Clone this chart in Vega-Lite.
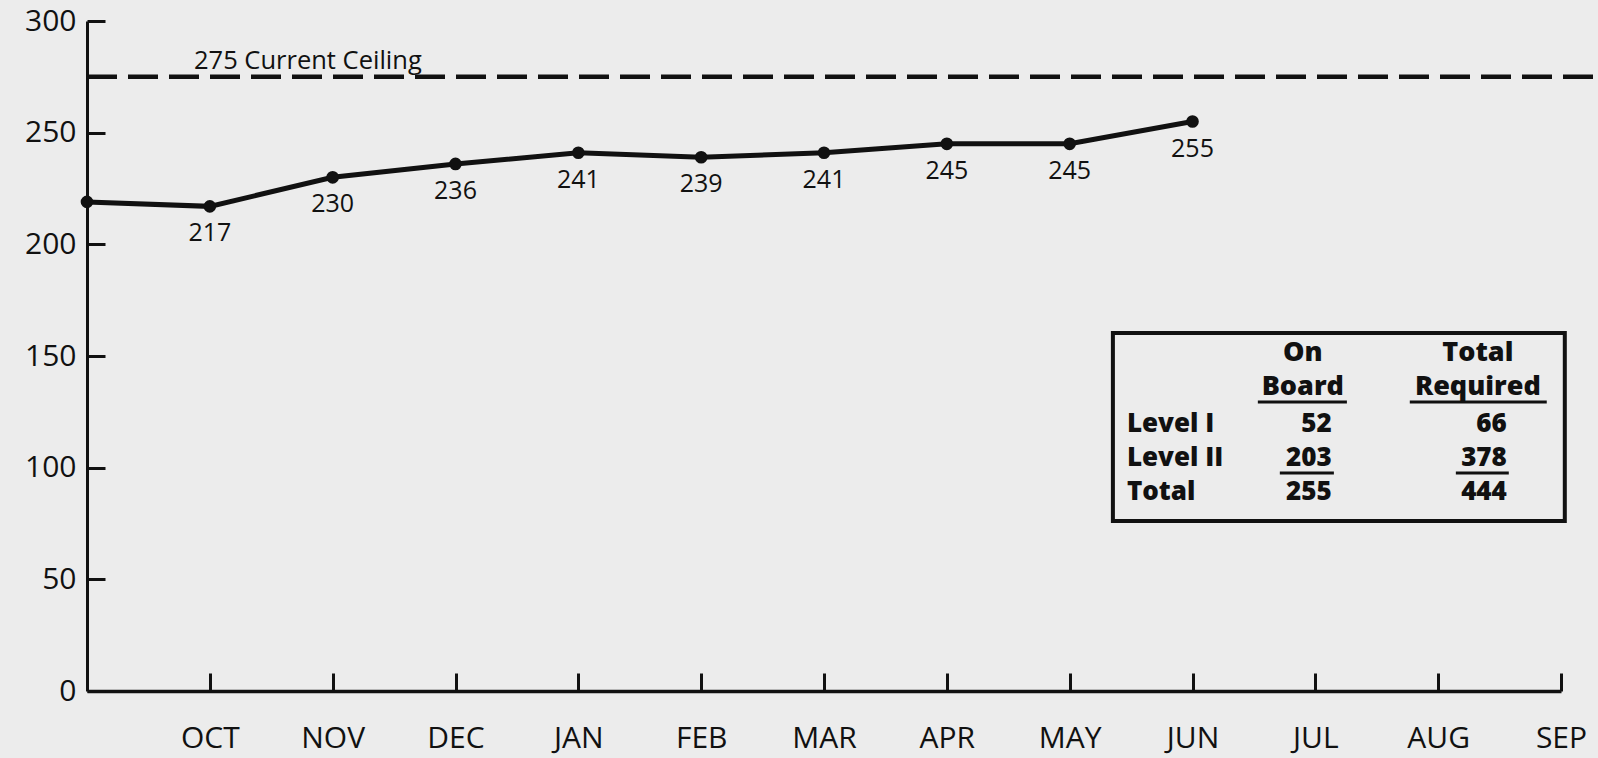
{
  "$schema": "https://vega.github.io/schema/vega-lite/v6.json",
  "width": 1474,
  "height": 670,
  "autosize": {"type": "none"},
  "padding": {"left": 87, "top": 21, "right": 37, "bottom": 67},
  "background": "#ececec",
  "config": {
    "view": {"stroke": null},
    "font": "Open Sans",
    "text": {"font": "Open Sans", "color": "#111111"}
  },
  "datasets": {
    "staff": [
      {"month": "SEP", "idx": 0, "value": 219},
      {"month": "OCT", "idx": 1, "value": 217},
      {"month": "NOV", "idx": 2, "value": 230},
      {"month": "DEC", "idx": 3, "value": 236},
      {"month": "JAN", "idx": 4, "value": 241},
      {"month": "FEB", "idx": 5, "value": 239},
      {"month": "MAR", "idx": 6, "value": 241},
      {"month": "APR", "idx": 7, "value": 245},
      {"month": "MAY", "idx": 8, "value": 245},
      {"month": "JUN", "idx": 9, "value": 255}
    ]
  },
  "layer": [
    {
      "data": {"name": "staff"},
      "mark": {"type": "line", "color": "#111111", "strokeWidth": 5, "point": {"filled": true, "size": 160, "color": "#111111"}},
      "encoding": {
        "x": {
          "field": "idx", "type": "quantitative",
          "scale": {"domain": [0, 12], "nice": false, "zero": false},
          "axis": {
            "title": null, "grid": false,
            "values": [1, 2, 3, 4, 5, 6, 7, 8, 9, 10, 11, 12],
            "labelExpr": "['','OCT','NOV','DEC','JAN','FEB','MAR','APR','MAY','JUN','JUL','AUG','SEP'][datum.value]",
            "domainColor": "#111111", "domainWidth": 3.5,
            "tickColor": "#111111", "tickWidth": 3, "tickSize": -18,
            "labelFontSize": 30, "labelColor": "#111111", "labelPadding": 50,
            "labelFont": "Open Sans", "labelFlush": false, "labelOverlap": false
          }
        },
        "y": {
          "field": "value", "type": "quantitative",
          "scale": {"domain": [0, 300], "nice": false},
          "axis": {
            "title": null, "grid": false,
            "values": [0, 50, 100, 150, 200, 250, 300],
            "domainColor": "#111111", "domainWidth": 3,
            "tickColor": "#111111", "tickWidth": 3, "tickSize": -18,
            "labelFontSize": 30, "labelColor": "#111111", "labelPadding": 29,
            "labelFont": "Open Sans", "labelOverlap": false, "labelFlush": false
          }
        }
      }
    },
    {
      "data": {"name": "staff"},
      "transform": [{"filter": "datum.idx > 0"}],
      "mark": {"type": "text", "dy": 27, "fontSize": 25, "baseline": "middle", "align": "center"},
      "encoding": {
        "x": {"field": "idx", "type": "quantitative"},
        "y": {"field": "value", "type": "quantitative"},
        "text": {"field": "value", "type": "quantitative"}
      }
    },
    {
      "data": {"values": [{"ceiling": 275}]},
      "mark": {"type": "rule", "strokeDash": [30, 11], "strokeWidth": 4.5, "color": "#111111"},
      "encoding": {
        "x": {"datum": 0, "type": "quantitative"},
        "x2": {"datum": 12.3},
        "y": {"field": "ceiling", "type": "quantitative"}
      }
    },
    {
      "data": {"values": [{"label": "275 Current Ceiling"}]},
      "mark": {"type": "text", "align": "left", "baseline": "middle", "fontSize": 25.5},
      "encoding": {
        "x": {"datum": 0.871, "type": "quantitative"},
        "y": {"datum": 282, "type": "quantitative"},
        "text": {"field": "label"}
      }
    },
    {
      "data": {"values": [{}]},
      "mark": {"type": "rect", "fillOpacity": 0, "stroke": "#111111", "strokeWidth": 4},
      "encoding": {
        "x": {"datum": 8.352, "type": "quantitative"},
        "x2": {"datum": 12.031},
        "y": {"datum": 160.3, "type": "quantitative"},
        "y2": {"datum": 76.1}
      }
    },
    {
      "data": {"values": [{"t": "On"}]},
      "mark": {"type": "text", "align": "center", "baseline": "middle", "fontSize": 27, "fontWeight": 800},
      "encoding": {"x": {"datum": 9.898, "type": "quantitative"}, "y": {"datum": 151.3, "type": "quantitative"}, "text": {"field": "t"}}
    },
    {
      "data": {"values": [{"t": "Board"}]},
      "mark": {"type": "text", "align": "center", "baseline": "middle", "fontSize": 27, "fontWeight": 800},
      "encoding": {"x": {"datum": 9.898, "type": "quantitative"}, "y": {"datum": 136.1, "type": "quantitative"}, "text": {"field": "t"}}
    },
    {
      "data": {"values": [{"t": "Total"}]},
      "mark": {"type": "text", "align": "center", "baseline": "middle", "fontSize": 27, "fontWeight": 800},
      "encoding": {"x": {"datum": 11.323, "type": "quantitative"}, "y": {"datum": 151.3, "type": "quantitative"}, "text": {"field": "t"}}
    },
    {
      "data": {"values": [{"t": "Required"}]},
      "mark": {"type": "text", "align": "center", "baseline": "middle", "fontSize": 27, "fontWeight": 800},
      "encoding": {"x": {"datum": 11.323, "type": "quantitative"}, "y": {"datum": 136.1, "type": "quantitative"}, "text": {"field": "t"}}
    },
    {
      "data": {"values": [{"t": "Level I"}]},
      "mark": {"type": "text", "align": "left", "baseline": "middle", "fontSize": 26, "fontWeight": 800},
      "encoding": {"x": {"datum": 8.466, "type": "quantitative"}, "y": {"datum": 119.6, "type": "quantitative"}, "text": {"field": "t"}}
    },
    {
      "data": {"values": [{"t": "Level II"}]},
      "mark": {"type": "text", "align": "left", "baseline": "middle", "fontSize": 26, "fontWeight": 800},
      "encoding": {"x": {"datum": 8.466, "type": "quantitative"}, "y": {"datum": 104.3, "type": "quantitative"}, "text": {"field": "t"}}
    },
    {
      "data": {"values": [{"t": "Total"}]},
      "mark": {"type": "text", "align": "left", "baseline": "middle", "fontSize": 26, "fontWeight": 800},
      "encoding": {"x": {"datum": 8.466, "type": "quantitative"}, "y": {"datum": 89.1, "type": "quantitative"}, "text": {"field": "t"}}
    },
    {
      "data": {"values": [{"t": "52"}]},
      "mark": {"type": "text", "align": "right", "baseline": "middle", "fontSize": 26, "fontWeight": 800},
      "encoding": {"x": {"datum": 10.134, "type": "quantitative"}, "y": {"datum": 119.6, "type": "quantitative"}, "text": {"field": "t"}}
    },
    {
      "data": {"values": [{"t": "203"}]},
      "mark": {"type": "text", "align": "right", "baseline": "middle", "fontSize": 26, "fontWeight": 800},
      "encoding": {"x": {"datum": 10.134, "type": "quantitative"}, "y": {"datum": 104.3, "type": "quantitative"}, "text": {"field": "t"}}
    },
    {
      "data": {"values": [{"t": "255"}]},
      "mark": {"type": "text", "align": "right", "baseline": "middle", "fontSize": 26, "fontWeight": 800},
      "encoding": {"x": {"datum": 10.134, "type": "quantitative"}, "y": {"datum": 89.1, "type": "quantitative"}, "text": {"field": "t"}}
    },
    {
      "data": {"values": [{"t": "66"}]},
      "mark": {"type": "text", "align": "right", "baseline": "middle", "fontSize": 26, "fontWeight": 800},
      "encoding": {"x": {"datum": 11.559, "type": "quantitative"}, "y": {"datum": 119.6, "type": "quantitative"}, "text": {"field": "t"}}
    },
    {
      "data": {"values": [{"t": "378"}]},
      "mark": {"type": "text", "align": "right", "baseline": "middle", "fontSize": 26, "fontWeight": 800},
      "encoding": {"x": {"datum": 11.559, "type": "quantitative"}, "y": {"datum": 104.3, "type": "quantitative"}, "text": {"field": "t"}}
    },
    {
      "data": {"values": [{"t": "444"}]},
      "mark": {"type": "text", "align": "right", "baseline": "middle", "fontSize": 26, "fontWeight": 800},
      "encoding": {"x": {"datum": 11.559, "type": "quantitative"}, "y": {"datum": 89.1, "type": "quantitative"}, "text": {"field": "t"}}
    },
    {
      "data": {"values": [{}]},
      "mark": {"type": "rule", "strokeWidth": 3, "color": "#111111"},
      "encoding": {
        "x": {"datum": 9.532, "type": "quantitative"},
        "x2": {"datum": 10.257},
        "y": {"datum": 129.4, "type": "quantitative"}
      }
    },
    {
      "data": {"values": [{}]},
      "mark": {"type": "rule", "strokeWidth": 3, "color": "#111111"},
      "encoding": {
        "x": {"datum": 10.769, "type": "quantitative"},
        "x2": {"datum": 11.884},
        "y": {"datum": 129.4, "type": "quantitative"}
      }
    },
    {
      "data": {"values": [{}]},
      "mark": {"type": "rule", "strokeWidth": 3, "color": "#111111"},
      "encoding": {
        "x": {"datum": 9.711, "type": "quantitative"},
        "x2": {"datum": 10.151},
        "y": {"datum": 97.6, "type": "quantitative"}
      }
    },
    {
      "data": {"values": [{}]},
      "mark": {"type": "rule", "strokeWidth": 3, "color": "#111111"},
      "encoding": {
        "x": {"datum": 11.144, "type": "quantitative"},
        "x2": {"datum": 11.575},
        "y": {"datum": 97.6, "type": "quantitative"}
      }
    }
  ]
}
